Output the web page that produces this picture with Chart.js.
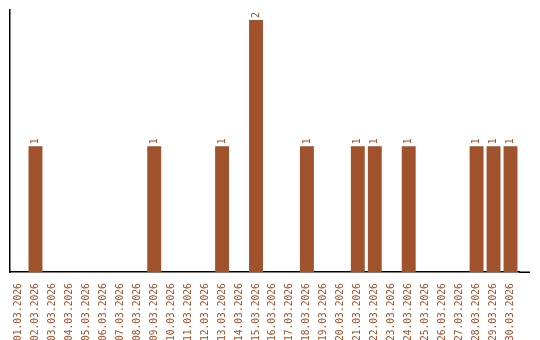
<!DOCTYPE html>
<html>
<head>
<meta charset="utf-8">
<script src="https://cdn.jsdelivr.net/npm/chart.js@4/dist/chart.umd.min.js"></script>
<style>
  html, body { margin: 0; padding: 0; background: #fff; }
  #wrap { width: 540px; height: 340px; }
</style>
</head>
<body>
<div id="wrap"><canvas id="chart" width="540" height="340"></canvas></div>
<script>
// dates of March 2026
const days = ['01.03.2026', '02.03.2026', '03.03.2026', '04.03.2026', '05.03.2026', '06.03.2026',
  '07.03.2026', '08.03.2026', '09.03.2026', '10.03.2026', '11.03.2026', '12.03.2026',
  '13.03.2026', '14.03.2026', '15.03.2026', '16.03.2026', '17.03.2026', '18.03.2026',
  '19.03.2026', '20.03.2026', '21.03.2026', '22.03.2026', '23.03.2026', '24.03.2026',
  '25.03.2026', '26.03.2026', '27.03.2026', '28.03.2026', '29.03.2026', '30.03.2026']
const counts = [0, 1, 0, 0, 0, 0, 0, 0, 1, 0, 0, 0, 1, 0, 2, 0, 0, 1, 0, 0, 1, 1, 0, 1, 0, 0, 0, 1, 1, 1]

const brown = '#A0522D'
const monoFont = { family: '"DejaVu Sans Mono", monospace', size: 9.6 }

// value above each bar, turned like the axis labels
const barLabels = {
  id: 'barLabels',
  afterDatasetsDraw(chart) {
    const ctx = chart.ctx
    const meta = chart.getDatasetMeta(0)
    ctx.save()
    ctx.fillStyle = brown
    ctx.font = '10px "DejaVu Sans Mono", monospace'
    ctx.textAlign = 'left'
    ctx.textBaseline = 'middle'
    meta.data.forEach((bar, i) => {
      if (!counts[i]) return
      ctx.save()
      ctx.translate(bar.x, bar.y - 2)
      ctx.rotate(-Math.PI / 2)
      ctx.fillText(String(counts[i]), 0, 0)
      ctx.restore()
    })
    ctx.restore()
  }
}

// the base line runs a bit past the last bar
const longBase = {
  id: 'longBase',
  afterDraw(chart) {
    const a = chart.chartArea
    const ctx = chart.ctx
    ctx.save()
    ctx.strokeStyle = '#000'
    ctx.lineWidth = 1.5
    ctx.beginPath()
    ctx.moveTo(a.right, a.bottom)
    ctx.lineTo(chart.width - 10, a.bottom)
    ctx.stroke()
    ctx.restore()
  }
}

new Chart(document.getElementById('chart').getContext('2d'), {
  type: 'bar',
  data: {
    labels: days,
    datasets: [{
      data: counts,
      backgroundColor: brown,
      borderWidth: 0,
      barPercentage: 0.82,
      categoryPercentage: 1
    }]
  },
  options: {
    responsive: false,
    animation: false,
    layout: { padding: { left: 2, right: 21, top: 10, bottom: -4 } },
    plugins: { legend: { display: false }, tooltip: { enabled: false } },
    scales: {
      x: {
        grid: { display: false },
        border: { display: true, color: '#000', width: 1.5 },
        ticks: { color: brown, font: monoFont, minRotation: 90, maxRotation: 90, autoSkip: false, padding: 3 }
      },
      y: {
        beginAtZero: true,
        max: 2.08,
        grid: { display: false },
        border: { display: true, color: '#000', width: 1.5 },
        ticks: { display: false }
      }
    }
  },
  plugins: [barLabels, longBase]
})
</script>
</body>
</html>
